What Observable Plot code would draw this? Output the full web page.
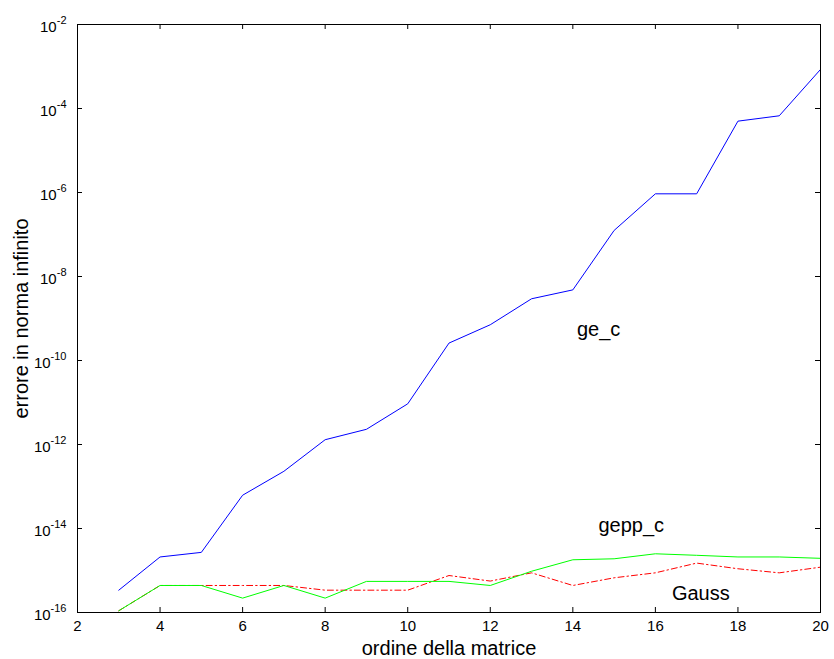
<!DOCTYPE html>
<html><head><meta charset="utf-8">
<script src="https://cdn.jsdelivr.net/npm/d3@7"></script>
<script src="https://cdn.jsdelivr.net/npm/@observablehq/plot@0.6"></script>
<style>html,body{margin:0;padding:0;background:#fff}svg{display:block}</style>
</head><body><div id="chart"></div>
<script>
// Data
const orders = [3,4,5,6,7,8,9,10,11,12,13,14,15,16,17,18,19,20];
const geC    = [3.4e-16,2.1e-15,2.7e-15,6.2e-14,2.3e-13,1.3e-12,2.3e-12,9.3e-12,2.6e-10,7.1e-10,2.95e-9,4.8e-9,1.25e-7,9.3e-7,9.3e-7,5.0e-5,6.7e-5,8.5e-4];
const geppC  = [1.1e-16,4.4e-16,4.4e-16,2.2e-16,4.4e-16,2.2e-16,5.5e-16,5.5e-16,5.5e-16,4.4e-16,9.6e-16,1.8e-15,1.9e-15,2.5e-15,2.3e-15,2.1e-15,2.1e-15,1.95e-15];
const gauss  = [1.1e-16,4.4e-16,4.4e-16,4.4e-16,4.4e-16,3.4e-16,3.4e-16,3.4e-16,7.6e-16,5.6e-16,8.8e-16,4.4e-16,6.7e-16,8.8e-16,1.5e-15,1.1e-15,8.8e-16,1.2e-15];
const xTicks = [2,4,6,8,10,12,14,16,18,20];
const yTicks = [1e-16,1e-14,1e-12,1e-10,1e-8,1e-6,1e-4,1e-2];
const annotText = ["ge_c","gepp_c","Gauss"];
const annotX = [14.1,14.62,16.4];
const annotY = [5.4e-10,1.15e-14,2.75e-16];

const W = 834, H = 659, mL = 77, mR = 14, mT = 24, mB = 47;
const plotW = W - mL - mR, plotH = H - mT - mB;

const rows = (vals) => orders.map((o, i) => ({x: o, y: vals[i]}));
const annots = annotText.map((t, i) => ({t, x: annotX[i], y: annotY[i]}));

const chart = Plot.plot({
  width: W, height: H,
  marginLeft: mL, marginRight: mR, marginTop: mT, marginBottom: mB,
  style: {fontFamily: "'Liberation Sans', Arial, sans-serif", fontSize: "15px", background: "#fff", color: "#000", overflow: "visible"},
  x: {domain: [2, 20]},
  y: {type: "log", domain: [1e-16, 1e-2]},
  marks: [
    Plot.axisX(xTicks, {tickSize: 0, tickPadding: 8, fontSize: 15, label: "ordine della matrice", labelAnchor: "center", labelArrow: false, labelOffset: 42}),
    Plot.axisY(yTicks, {tickSize: 0, tickPadding: 11, fontSize: 15, tickFormat: d => "10^" + Math.round(Math.log10(d)), label: "errore in norma infinito", labelAnchor: "center", labelArrow: false, labelOffset: 64}),
    Plot.tickX(xTicks, {x: d => d, insetTop: plotH - 5, stroke: "#000"}),
    Plot.tickX(xTicks, {x: d => d, insetBottom: plotH - 5, stroke: "#000"}),
    Plot.tickY(yTicks, {y: d => d, insetRight: plotW - 5, stroke: "#000"}),
    Plot.tickY(yTicks, {y: d => d, insetLeft: plotW - 5, stroke: "#000"}),
    Plot.line(rows(geC), {x: "x", y: "y", stroke: "#0000ff", strokeWidth: 1}),
    Plot.line(rows(gauss), {x: "x", y: "y", stroke: "#ff0000", strokeWidth: 1, strokeDasharray: "6,3,1.5,3"}),
    Plot.line(rows(geppC), {x: "x", y: "y", stroke: "#00ff00", strokeWidth: 1}),
    Plot.frame({stroke: "#000", strokeWidth: 1}),
    Plot.text(annots, {x: "x", y: "y", text: "t", textAnchor: "start", fontSize: 20, fill: "#000"})
  ]
});

// superscript exponents on y tick labels
d3.select(chart).selectAll('[aria-label="y-axis tick label"] text').each(function() {
  const s = this.textContent;
  const m = s.match(/^10\^(-?\d+)$/);
  if (!m) return;
  const t = d3.select(this);
  t.text(null);
  t.append("tspan").attr("dy", "0.2em").text("10");
  t.append("tspan").attr("dy", "-0.75em").attr("font-size", "11px").text(m[1]);
});
d3.select(chart).selectAll('[aria-label="y-axis label"] text, [aria-label="x-axis label"] text').attr("font-size", "20px");

document.getElementById("chart").appendChild(chart);
</script>
</body></html>
